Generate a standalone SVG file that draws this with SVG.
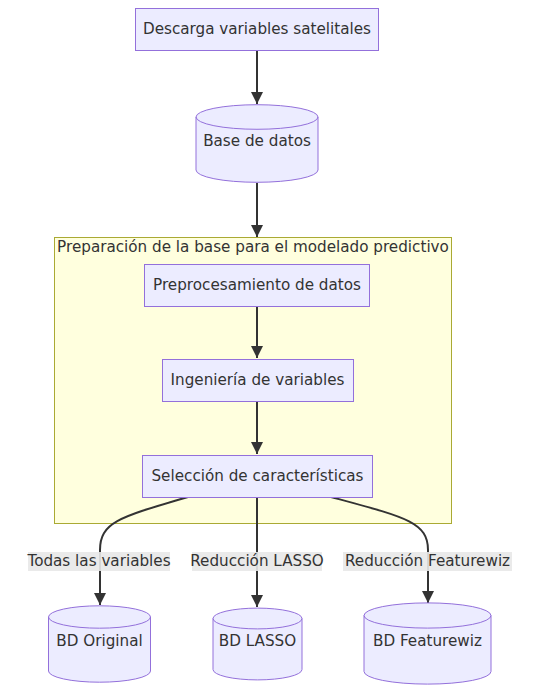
<svg xmlns="http://www.w3.org/2000/svg" width="540" height="693" viewBox="0 0 540 693">
<defs>
<style>
text{font-family:"DejaVu Sans",sans-serif;font-size:15.2px;fill:#333;text-anchor:middle;dominant-baseline:central}
.n{fill:#ececff;stroke:#9370db;stroke-width:1}
.e{fill:none;stroke:#333;stroke-width:2}
.lb{fill:#e8e8e8;opacity:0.9}
</style>
<marker id="a" viewBox="0 0 12 12" refX="12" refY="6" markerWidth="12" markerHeight="12" markerUnits="userSpaceOnUse" orient="auto">
<path d="M0,0 L12,6 L0,12 z" fill="#333"/>
</marker>
</defs>
<g id="cluster">
<rect x="54.5" y="237.5" width="397" height="286" fill="#ffffde" stroke="#aaaa33" stroke-width="1"/>
<text x="253" y="247">Preparación de la base para el modelado predictivo</text>
</g>
<g id="connectors">
<path class="e" d="M257,51 L257,104" marker-end="url(#a)"/>
<path class="e" d="M257,183 L257,237" marker-end="url(#a)"/>
<path class="e" d="M257,307 L257,358" marker-end="url(#a)"/>
<path class="e" d="M257,402 L257,454" marker-end="url(#a)"/>
<path class="e" d="M188,497 C120,517 100,522 100,550 L100,605" marker-end="url(#a)"/>
<path class="e" d="M257,498 L257,607" marker-end="url(#a)"/>
<path class="e" d="M331,497 C405,517 428,522 428,550 L428,603" marker-end="url(#a)"/>
</g>
<g id="edge-labels">
<rect class="lb" x="28" y="552" width="142" height="19"/>
<text x="99" y="561">Todas las variables</text>
<rect class="lb" x="192" y="552" width="130" height="19"/>
<text x="257" y="561">Reducción LASSO</text>
<rect class="lb" x="343" y="552" width="169" height="19"/>
<text x="427.5" y="561">Reducción Featurewiz</text>
</g>
<g id="descarga">
<rect class="n" x="135.5" y="8.5" width="243" height="42"/>
<text x="257" y="29">Descarga variables satelitales</text>
</g>
<g id="base">
<path class="n" d="M196,117 a61,12.3 0 0 0 122,0 a61,12.3 0 0 0 -122,0 l0,53 a61,12.3 0 0 0 122,0 l0,-53"/>
<text x="257" y="141">Base de datos</text>
</g>
<g id="preproc">
<rect class="n" x="144.5" y="264.5" width="225" height="42"/>
<text x="257" y="285">Preprocesamiento de datos</text>
</g>
<g id="ingenieria">
<rect class="n" x="162.5" y="359.5" width="191" height="42"/>
<text x="257.5" y="380">Ingeniería de variables</text>
</g>
<g id="seleccion">
<rect class="n" x="142.5" y="455.5" width="230" height="42"/>
<text x="257.5" y="476">Selección de características</text>
</g>
<g id="bd-original">
<path class="n" d="M48.5,617 a51,11.2 0 0 0 102,0 a51,11.2 0 0 0 -102,0 l0,54 a51,11.2 0 0 0 102,0 l0,-54"/>
<text x="99.5" y="641">BD Original</text>
</g>
<g id="bd-lasso">
<path class="n" d="M213,618.5 a44.5,10.4 0 0 0 89,0 a44.5,10.4 0 0 0 -89,0 l0,51 a44.5,10.4 0 0 0 89,0 l0,-51"/>
<text x="257.5" y="641">BD LASSO</text>
</g>
<g id="bd-featurewiz">
<path class="n" d="M364,615.5 a63.5,12.6 0 0 0 127,0 a63.5,12.6 0 0 0 -127,0 l0,56 a63.5,12.6 0 0 0 127,0 l0,-56"/>
<text x="427.5" y="641">BD Featurewiz</text>
</g>
</svg>
